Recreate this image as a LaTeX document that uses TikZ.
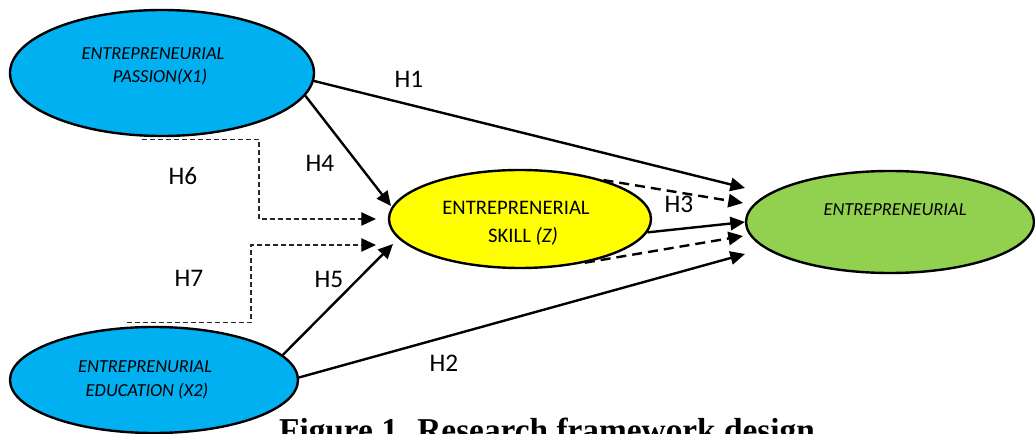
\documentclass[tikz,border=0pt]{standalone}
\usepackage{fontspec}
\setmainfont{Carlito}
\newfontfamily\capfont{Liberation Serif}
\usetikzlibrary{arrows.meta,shapes.geometric}
\definecolor{blueE}{RGB}{0,176,240}
\definecolor{yellowE}{RGB}{255,255,0}
\definecolor{greenE}{RGB}{146,208,80}
\definecolor{dashgray}{RGB}{40,40,40}
\begin{document}
\begin{tikzpicture}[x=0.75pt,y=-0.75pt,
  ell/.style={ellipse,draw=black,line width=1.8pt,inner sep=0pt},
  etext/.style={font=\fontsize{13.8}{16}\selectfont\itshape,inner sep=0pt,anchor=base},
  ztext/.style={font=\fontsize{15.5}{18}\selectfont,inner sep=0pt,anchor=base},
  hlab/.style={font=\fontsize{19}{22}\selectfont,inner sep=0pt,anchor=base},
  tip/.style={-{Triangle[length=11pt,width=10pt]}},
  arr/.style={tip,line width=1.8pt},
  darr/.style={tip,line width=1.8pt,dash pattern=on 7.5pt off 4.5pt},
  tdash/.style={-{Triangle[length=11pt,width=10pt,color=black,fill=black]},line width=0.9pt,draw=dashgray,dash pattern=on 3.5pt off 2.5pt}
]
\clip (0,0) rectangle (1035,434);

% ellipses
\node[ell,fill=blueE,minimum width=228pt,minimum height=94.5pt] (x1) at (162,73) {};
\node[ell,fill=blueE,minimum width=216pt,minimum height=79.5pt] (x2) at (154,380) {};
\node[ell,fill=yellowE,minimum width=196.5pt,minimum height=73.5pt] (z) at (520,219) {};
\node[ell,fill=greenE,minimum width=216pt,minimum height=76.5pt] (y) at (890,222) {};

% texts
\node[etext] (x1a) at (153,60) {ENTREPRENEURIAL};
\node[etext] (x1b) at (160,83) {PASSION(X1)};
\node[ztext] (za) at (516,215) {ENTREPRENERIAL};
\node[ztext] (zb) at (523,243) {SKILL \textit{(Z)}};
\node[etext] (ya) at (895,216) {ENTREPRENEURIAL};
\node[etext] (x2a) at (145,373) {ENTREPRENURIAL};
\node[etext] (x2b) at (147,397) {EDUCATION (X2)};

% arrow tips
\coordinate (t1) at (745,188);
\coordinate (t4) at (391,206);
\coordinate (t6) at (376,219);
\coordinate (t7) at (376,245);
\coordinate (t5) at (393,244);
\coordinate (t2) at (745,254);
\coordinate (tz) at (745,222);
\coordinate (tdu) at (743,203);
\coordinate (tdl) at (743,236);

% connectors
\draw[arr] (x1.-3) -- (t1);
\draw[arr] (x1.-9.5) -- (t4);
\draw[arr] (x2.11) -- (t5);
\draw[arr] (x2.1) -- (t2);
\draw[arr] (z.-6) -- (tz);
\draw[darr] (z.25) -- (tdu);
\draw[darr] (z.-34) -- (tdl);
\draw[tdash] ([xshift=-15pt,yshift=-1.5pt]x1.south) -| ([xshift=-87.75pt]t6) -- (t6);
\draw[tdash] ([xshift=-20.25pt,yshift=2.25pt]x2.north) -| ([xshift=-93.75pt]t7) -- (t7);

% labels
\node[hlab] (h1) at (409,88) {H1};
\node[hlab] (h4) at (320,172) {H4};
\node[hlab] (h6) at (183,185) {H6};
\node[hlab] (h7) at (189,287) {H7};
\node[hlab] (h5) at (329,288) {H5};
\node[hlab] (h2) at (444,372) {H2};
\node[hlab] (h3) at (679,213) {H3};

% caption (cut off at the bottom edge, as in the source)
\node[font=\capfont\bfseries\fontsize{25}{28}\selectfont,inner sep=0pt,anchor=base] (cap) at (547,441) {Figure 1. Research framework design};
\end{tikzpicture}
\end{document}
